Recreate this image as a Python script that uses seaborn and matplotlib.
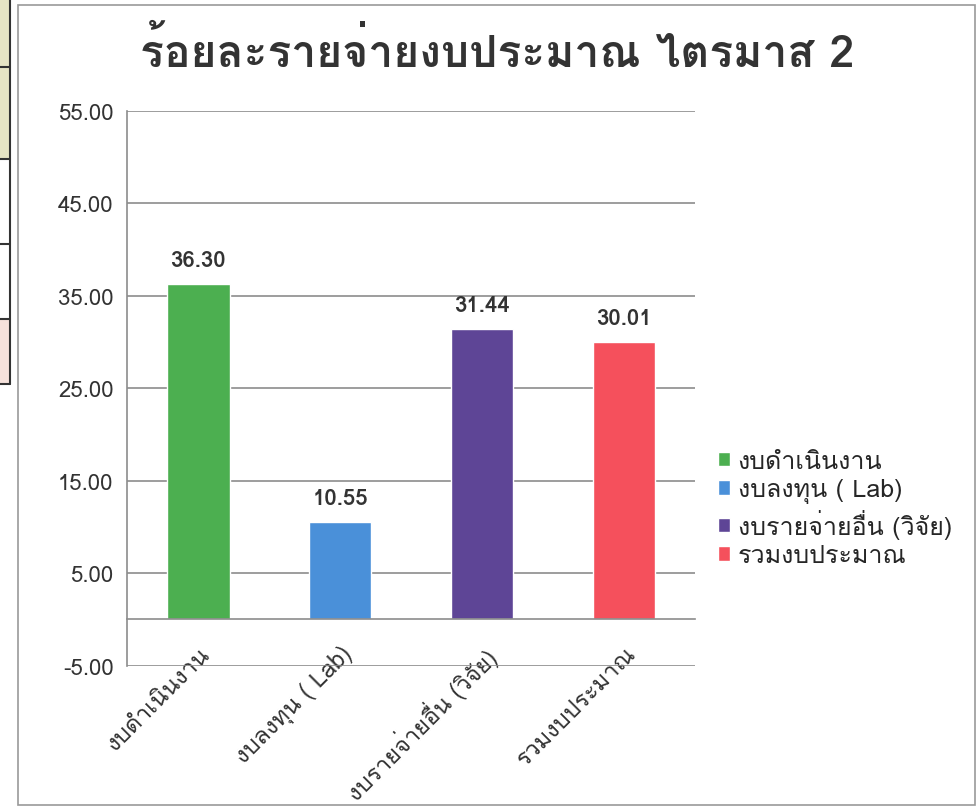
import matplotlib
matplotlib.use('Agg')
import matplotlib.pyplot as plt
from matplotlib.patches import Rectangle
from matplotlib.lines import Line2D
from matplotlib.ticker import FormatStrFormatter, FixedLocator
import seaborn as sns
import pandas as pd

# Data
categories = ['งบดำเนินงาน', 'งบลงทุน ( Lab)', 'งบรายจ่ายอื่น (วิจัย)', 'รวมงบประมาณ']
values = [36.30, 10.55, 31.44, 30.01]
colors = ['#4caf50', '#4a90d9', '#5e4596', '#f5505c']
y_ticks = [-5, 5, 15, 25, 35, 45, 55]
title = 'ร้อยละรายจ่ายงบประมาณ ไตรมาส 2'

sns.set_style('white')
# Loma has the Thai glyphs, DejaVu Sans as fallback
plt.rcParams['font.family'] = ['Loma', 'DejaVu Sans']

df = pd.DataFrame({'category': categories, 'value': values})

fig = plt.figure(figsize=(9.8, 8.12), dpi=100)
ax = fig.add_axes([0.130, 0.179, 0.579, 0.683])

sns.barplot(data=df, x='category', y='value', hue='category', palette=colors,
            width=0.44, dodge=False, legend=True, ax=ax, saturation=1)

grey = '#8c8c8c'
text_col = '#333333'
ax.set_ylim(-5, 55)
ax.set_xlim(-0.5, 3.5)
ax.set_yticks(y_ticks)
ax.yaxis.set_major_formatter(FormatStrFormatter('%.2f'))
ax.grid(axis='y', color=grey, linewidth=1.2)
ax.set_axisbelow(True)
for s in ['top', 'right']:
    ax.spines[s].set_visible(False)
ax.spines['left'].set_color(grey)
ax.spines['left'].set_linewidth(1.2)
ax.spines['bottom'].set_position(('data', 0))
ax.spines['bottom'].set_color(grey)
ax.spines['bottom'].set_linewidth(1.2)
ax.tick_params(axis='y', length=6, color=grey, width=1.2, labelsize=16, labelcolor=text_col, pad=4)
ax.tick_params(axis='x', which='major', length=0, labelsize=17, labelcolor=text_col, pad=16)
ax.xaxis.set_minor_locator(FixedLocator([0.5, 1.5, 2.5]))
ax.tick_params(axis='x', which='minor', length=6, color=grey, width=1.2)
ax.set_xlabel('')
ax.set_ylabel('')
for lbl in ax.get_xticklabels():
    lbl.set_rotation(45)
    lbl.set_ha('right')
    lbl.set_rotation_mode('anchor')

for c in ax.containers:
    ax.bar_label(c, fmt='%.2f', padding=10, fontsize=16, fontweight='bold', color=text_col)

handles, labels = ax.get_legend_handles_labels()
ax.legend_.remove()
fig.legend(handles, labels, loc='upper left', bbox_to_anchor=(0.722, 0.457),
           frameon=False, fontsize=18, handlelength=0.5, handleheight=0.5,
           handletextpad=0.3, labelspacing=0.22, borderaxespad=0)

fig.text(0.507, 0.937, title, ha='center', va='center', fontsize=32, fontweight='bold', color=text_col)

# chart frame and the edge of the table beside it in the scan
fig.add_artist(Rectangle((18 / 980, 6 / 812), 957 / 980, 800 / 812, transform=fig.transFigure,
                         fill=False, edgecolor='#999999', linewidth=1.2))
fig.add_artist(Rectangle((0, 1 - 160 / 812), 10 / 980, 160 / 812, transform=fig.transFigure,
                         facecolor='#e6e4c4', edgecolor='none'))
fig.add_artist(Rectangle((0, 1 - 385 / 812), 10 / 980, 65 / 812, transform=fig.transFigure,
                         facecolor='#f6e2dc', edgecolor='none'))
fig.add_artist(Line2D([10 / 980, 10 / 980], [1, 1 - 385 / 812], transform=fig.transFigure,
                      color=text_col, linewidth=1.5))
for y in [68, 160, 245, 320, 385]:
    fig.add_artist(Line2D([0, 10 / 980], [1 - y / 812] * 2, transform=fig.transFigure,
                          color=text_col, linewidth=1.5))

fig.savefig('out.png', dpi=100, facecolor='white')
